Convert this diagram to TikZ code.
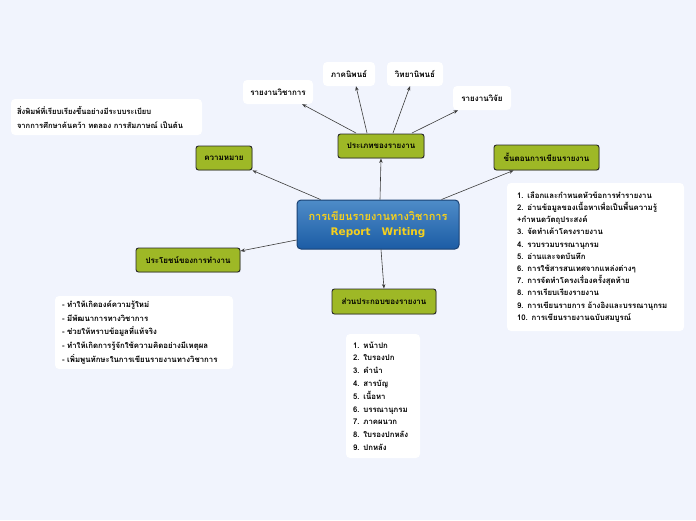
\documentclass[tikz,border=0pt]{standalone}
\usepackage{fontspec}
\setmainfont[Script=Thai]{Loma}
\newfontfamily\thaifont[Script=Thai]{Loma}
\newfontfamily\latinfont{DejaVu Sans}
\usetikzlibrary{arrows.meta,shadows}
\definecolor{bgcol}{RGB}{241,244,253}
\definecolor{olivefill}{RGB}{158,184,38}
\definecolor{bluetop}{RGB}{78,140,200}
\definecolor{bluebot}{RGB}{28,92,165}
\definecolor{blueborder}{RGB}{25,65,115}
\definecolor{ytext}{RGB}{245,208,30}
\definecolor{linecol}{RGB}{60,60,60}
\tikzset{
  greenbox/.style={draw=black!85, line width=0.9pt, fill=olivefill, rounded corners=2.5pt,
    font=\thaifont\bfseries\fontsize{8}{10}\selectfont, inner sep=0pt, align=center,
    drop shadow={shadow xshift=0.8pt, shadow yshift=-0.8pt, opacity=0.25}},
  whitebox/.style={fill=white, draw=none, rounded corners=4pt, inner sep=0pt,
    font=\thaifont\bfseries\fontsize{8}{10}\selectfont, align=center},
  listbox/.style={fill=white, draw=none, rounded corners=4pt, inner ysep=0pt,
    font=\thaifont\bfseries\fontsize{7.8}{12.2}\selectfont, align=left},
  conn/.style={draw=linecol, line width=0.6pt, -{Stealth[length=4.5pt,width=3.5pt]}},
  mainbox/.style={draw=blueborder, line width=1pt, top color=bluetop, bottom color=bluebot,
    rounded corners=4pt, inner sep=0pt, align=center, text=ytext},
}
\begin{document}
\begin{tikzpicture}[x=1pt,y=-1pt]
\useasboundingbox (0,0) rectangle (696,520);
\fill[bgcol] (0,0) rectangle (696,520);

% central node
\node[mainbox, minimum width=162pt, minimum height=49pt] (main) at (378,224.5)
  {{\thaifont\bfseries\fontsize{11}{16}\selectfont การเขียนรายงานทางวิชาการ}\\[3pt]
   {\latinfont\bfseries\fontsize{10.5}{14}\selectfont Report\ \ \ Writing}};

% green nodes
\node[greenbox, minimum width=86pt, minimum height=24pt] (types) at (381,146) {ประเภทของรายงาน};
\node[greenbox, minimum width=56pt, minimum height=24pt] (meaning) at (224,158) {ความหมาย};
\node[greenbox, minimum width=105pt, minimum height=25pt] (steps) at (546.5,157.5) {ขั้นตอนการเขียนรายงาน};
\node[greenbox, minimum width=104pt, minimum height=24pt] (benefit) at (188,260) {ประโยชน์ของการทำงาน};
\node[greenbox, minimum width=104pt, minimum height=25pt] (parts) at (384,301.5) {ส่วนประกอบของรายงาน};

% white type boxes
\node[whitebox, minimum width=70pt, minimum height=24pt] (t1) at (278,92) {รายงานวิชาการ};
\node[whitebox, minimum width=52pt, minimum height=24pt] (t2) at (349,74) {ภาคนิพนธ์};
\node[whitebox, minimum width=56pt, minimum height=24pt] (t3) at (415,74) {วิทยานิพนธ์};
\node[whitebox, minimum width=58pt, minimum height=24pt] (t4) at (482,98) {รายงานวิจัย};

% text boxes
\node[listbox, inner xsep=6pt, text width=179pt, minimum height=36pt,
      font=\thaifont\bfseries\fontsize{7.6}{14}\selectfont] (deftext) at (106.5,117)
  {สิ่งพิมพ์ที่เรียบเรียงขึ้นอย่างมีระบบระเบียบ\\จากการศึกษาค้นคว้า ทดลอง การสัมภาษณ์ เป็นต้น};

\node[listbox, inner xsep=10pt, text width=157pt, minimum height=148pt] (steplist) at (595.5,257)
  {1. เลือกและกำหนดหัวข้อการทำรายงาน\\
   2. อ่านข้อมูลของเนื้อหาเพื่อเป็นพื้นความรู้\\
   +กำหนดวัตถุประสงค์\\
   3. จัดทำเค้าโครงรายงาน\\
   4. รวบรวมบรรณานุกรม\\
   5. อ่านและจดบันทึก\\
   6. การใช้สารสนเทศจากแหล่งต่างๆ\\
   7. การจัดทำโครงเรื่องครั้งสุดท้าย\\
   8. การเรียบเรียงรายงาน\\
   9. การเขียนรายการ อ้างอิงและบรรณานุกรม\\
   10. การเขียนรายงานฉบับสมบูรณ์};

\node[listbox, inner xsep=7pt, text width=164pt, minimum height=73pt,
      font=\thaifont\bfseries\fontsize{7.8}{13.75}\selectfont] (benlist) at (144,332.5)
  {- ทำให้เกิดองค์ความรู้ใหม่\\
   - มีพัฒนาการทางวิชาการ\\
   - ช่วยให้ทราบข้อมูลที่แท้จริง\\
   - ทำให้เกิดการรู้จักใช้ความคิดอย่างมีเหตุผล\\
   - เพิ่มพูนทักษะในการเขียนรายงานทางวิชาการ};

\node[listbox, inner xsep=7pt, text width=60pt, minimum height=124pt,
      font=\thaifont\bfseries\fontsize{7.8}{12.8}\selectfont] (partlist) at (383,396)
  {1. หน้าปก\\
   2. ใบรองปก\\
   3. คำนำ\\
   4. สารบัญ\\
   5. เนื้อหา\\
   6. บรรณานุกรม\\
   7. ภาคผนวก\\
   8. ใบรองปกหลัง\\
   9. ปกหลัง};

% connectors
\draw[conn] ([xshift=2pt]main.north) -- (types.south);
\draw[conn] ([xshift=24pt]main.north west) -- (meaning.south east);
\draw[conn] ([xshift=-18pt]main.north east) -- ([xshift=20pt]steps.south west);
\draw[conn] ([yshift=-15.5pt]main.west) -- ([yshift=9pt]benefit.east);
\draw[conn] ([xshift=3pt]main.south) -- (parts.north);

\coordinate (s1) at (356,133);
\coordinate (s2) at (367,133);
\coordinate (s3) at (393,133);
\coordinate (s4) at (412,133);
\draw[conn] (s1) -- ([xshift=-11pt]t1.south east);
\draw[conn] (s2) -- ([xshift=7pt]t2.south);
\draw[conn] (s3) -- ([xshift=-5pt]t3.south);
\draw[conn] (s4) -- ([xshift=-24pt]t4.south);
\end{tikzpicture}
\end{document}
